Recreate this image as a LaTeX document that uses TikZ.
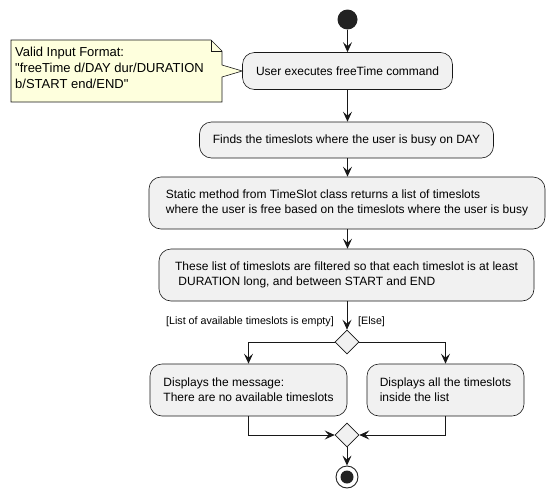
\documentclass[tikz,border=0pt]{standalone}
\usepackage{fontspec}
\setmainfont{Liberation Sans}
\newfontfamily\notefont{Liberation Sans}[Ligatures=ResetAll]
\usetikzlibrary{arrows.meta,shapes.geometric}
\definecolor{actfill}{HTML}{F1F1F1}
\definecolor{lineclr}{HTML}{181818}
\definecolor{notefill}{HTML}{FEFFDD}
\definecolor{dotclr}{HTML}{222222}
\tikzset{
  actbox/.style={rectangle, rounded corners=12pt, draw=lineclr, line width=0.6pt, fill=actfill,
    align=left, inner sep=0pt, font=\fontsize{12}{15}\selectfont},
  decbox/.style={diamond, draw=lineclr, line width=0.6pt, fill=actfill, inner sep=0pt,
    minimum width=24pt, minimum height=24pt},
  arr/.style={draw=lineclr, line width=0.9pt, -{Stealth[length=10pt,width=9pt,inset=4pt]}},
  guard/.style={font=\fontsize{10.7}{13}\selectfont, inner sep=0pt},
  notetext/.style={align=left, inner sep=0pt, font=\notefont\fontsize{13}{16}\selectfont},
}
\begin{document}
\begin{tikzpicture}[x=1pt,y=-1pt]
\useasboundingbox (0,0) rectangle (554,498);
% start
\node[circle, fill=dotclr, minimum size=20pt, inner sep=0pt] (start) at (347.5,19.5) {};
% actions
\node[actbox, minimum width=210pt, minimum height=37pt] (a1) at (347.5,71) {User executes freeTime command};
\node[actbox, minimum width=294pt, minimum height=36pt] (a2) at (346.5,140) {Finds the timeslots where the user is busy on DAY};
\node[actbox, minimum width=396pt, minimum height=52pt] (a3) at (347,203) {Static method from TimeSlot class returns a list of timeslots\\where the user is free based on the timeslots where the user is busy};
\node[actbox, minimum width=375pt, minimum height=52pt] (a4) at (346.5,275) {These list of timeslots are filtered so that each timeslot is at least\\\ DURATION long, and between START and END};
\node[decbox] (d1) at (347,342) {};
\node[actbox, minimum width=197pt, minimum height=52pt] (a5) at (248.5,390) {Displays the message:\\There are no available timeslots};
\node[actbox, minimum width=157pt, minimum height=52pt] (a6) at (445.5,390) {Displays all the timeslots\\inside the list};
\node[decbox] (d2) at (347,435) {};
% end
\node[circle, draw=dotclr, line width=0.9pt, fill=white, minimum size=22pt, inner sep=0pt] (stop) at (347,477) {};
\node[circle, fill=dotclr, minimum size=13pt, inner sep=0pt] (stopdot) at (stop.center) {};
% note
\fill[notefill] (11,40) -- (211,40) -- (222,51) -- (222,65) -- (a1.west) -- (222,77) -- (222,102) -- (11,102) -- cycle;
\draw[lineclr, line width=0.6pt] (11,40) -- (211,40) -- (222,51) -- (222,65) -- (a1.west) -- (222,77) -- (222,102) -- (11,102) -- cycle;
\draw[lineclr, line width=0.6pt] (211,40) -- (211,51) -- (222,51);
\node[notetext, anchor=north west] (note) at (15,47) {Valid Input Format:\\"freeTime d/DAY dur/DURATION\\b/START end/END"};
% connectors
\draw[arr] (start) -- (a1);
\draw[arr] (a1) -- (a2.north -| a1);
\draw[arr] (a2.south -| a1) -- (a3.north -| a1);
\draw[arr] (a3.south -| a1) -- (a4.north -| a1);
\draw[arr] (a4.south -| d1) -- (d1.north);
\draw[arr] (d1.west) -| (a5.north);
\draw[arr] (d1.east) -| (a6.north);
\draw[arr] (a5.south) |- (d2.west);
\draw[arr] (a6.south) |- (d2.east);
\draw[arr] (d2.south) -- (stop.north);
% guards
\node[guard, anchor=east] (g1) at (334,322) {[List of available timeslots is empty]};
\node[guard, anchor=west] (g2) at (358,322) {[Else]};
\end{tikzpicture}
\end{document}
